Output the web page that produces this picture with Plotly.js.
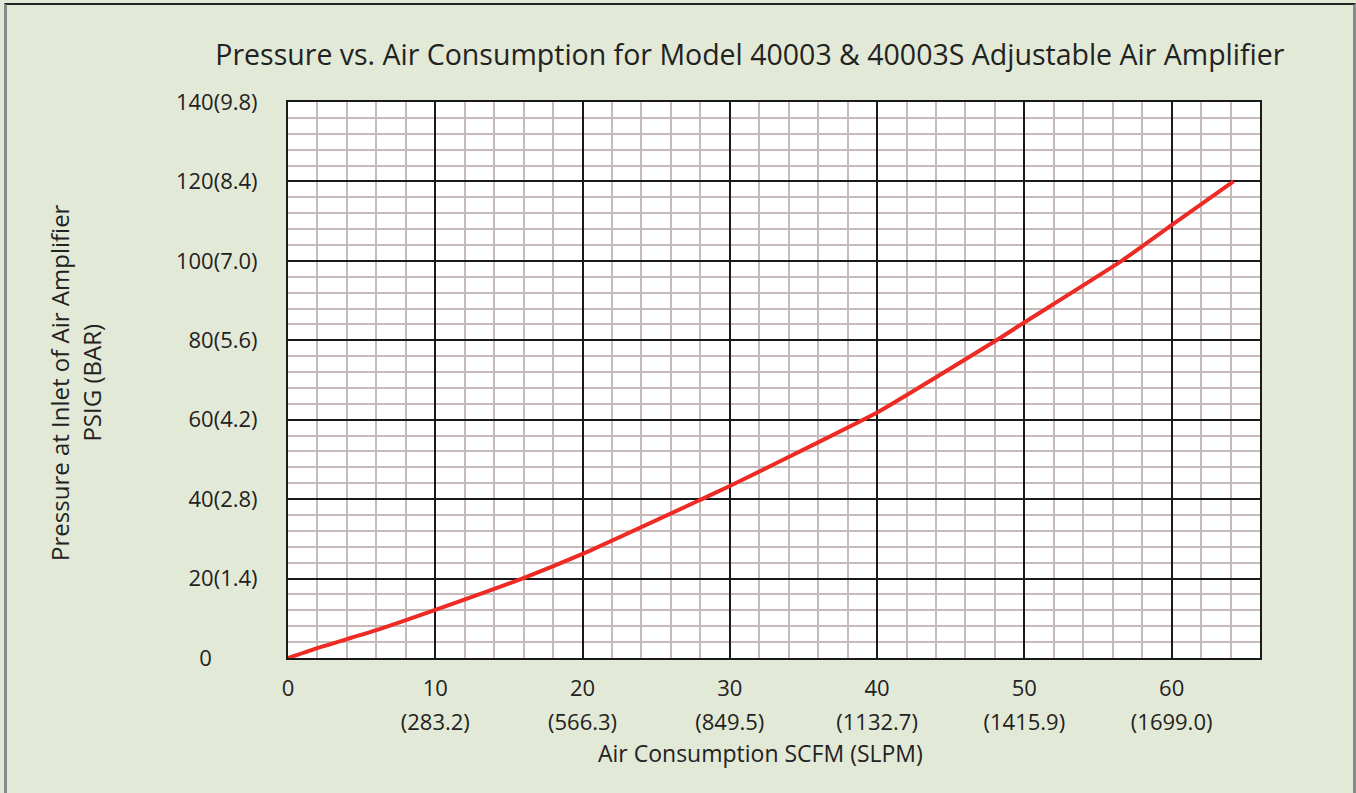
<!DOCTYPE html>
<html>
<head>
<meta charset="utf-8">
<script src="https://cdn.plot.ly/plotly-3.0.1.min.js"></script>
<style>
  html, body { margin: 0; padding: 0; background: #e2e9d6; }
  #wrap { position: relative; width: 1356px; height: 793px; overflow: hidden; }
  #chart { width: 1356px; height: 793px; }
  #frame { position: absolute; left: 4px; top: 3px; width: 1346px; height: 800px;
           border-top: 2px solid #222; border-left: 3px solid #8a8a8a; border-right: 3px solid #8a8a8a;
           pointer-events: none; }
</style>
</head>
<body>
<div id="wrap">
  <div id="chart"></div>
  <div id="frame"></div>
</div>
<script>
// Data
const airScfm = [0, 2, 6, 10, 15.9, 20, 28.1, 30, 36, 40, 48.1, 50, 56.6, 60, 64.2];
const pressurePsig = [0, 2.5, 7.0, 12.1, 20, 26.2, 40, 43.3, 54.3, 61.8, 80, 84.5, 100, 109, 120];

const xTickVals = [0, 10, 20, 30, 40, 50, 60];
const xTickScfm = ['0', '10', '20', '30', '40', '50', '60'];
const xTickSlpm = ['', '(283.2)', '(566.3)', '(849.5)', '(1132.7)', '(1415.9)', '(1699.0)'];
const yTickVals = [0, 20, 40, 60, 80, 100, 120, 140];
const yTickText = ['0\u00a0\u00a0\u00a0\u00a0\u00a0\u00a0\u00a0\u00a0', '20(1.4)', '40(2.8)', '60(4.2)', '80(5.6)', '100(7.0)', '120(8.4)', '140(9.8)'];

const titleText = 'Pressure vs. Air Consumption for Model 40003 & 40003S Adjustable Air Amplifier';
const xTitle = 'Air Consumption SCFM (SLPM)';
const yTitle = 'Pressure at Inlet of Air Amplifier<br>PSIG (BAR)';

const font = 'Open Sans, Noto Sans, sans-serif';
const txt = '#222222';

const traces = [
  { x: airScfm, y: pressurePsig, type: 'scatter', mode: 'lines',
    line: { color: '#ee2a24', width: 4, shape: 'spline', smoothing: 0.5 },
    hoverinfo: 'x+y', showlegend: false, xaxis: 'x', yaxis: 'y' },
  { x: [0, 66], y: [0, 0], type: 'scatter', mode: 'markers', marker: { opacity: 0 },
    hoverinfo: 'skip', showlegend: false, xaxis: 'x2', yaxis: 'y' }
];

const layout = {
  width: 1356, height: 793,
  paper_bgcolor: '#e2e9d6', plot_bgcolor: '#ffffff',
  margin: { l: 288, r: 96, t: 102, b: 135 },
  font: { family: font, color: txt, size: 22 },
  title: { text: titleText, font: { family: font, size: 28.5, color: txt },
           x: 0.553, xref: 'container', xanchor: 'center', y: 0.93, yref: 'container', yanchor: 'middle' },
  xaxis: {
    range: [0, 66], tickvals: xTickVals, ticktext: xTickScfm,
    showgrid: true, gridcolor: '#1a1a1a', gridwidth: 2,
    showline: true, linecolor: '#1a1a1a', linewidth: 2, mirror: true,
    zeroline: false, ticks: '', ticklabelstandoff: 10,
    tickfont: { family: font, size: 22, color: txt },
    minor: { dtick: 2, showgrid: true, gridcolor: '#c6baba', gridwidth: 2 }
  },
  xaxis2: {
    overlaying: 'x', matches: 'x', side: 'bottom', range: [0, 66],
    tickvals: xTickVals, ticktext: xTickSlpm, showgrid: false, zeroline: false,
    showline: false, ticks: '', ticklabelstandoff: 49,
    tickfont: { family: font, size: 22, color: txt }
  },
  yaxis: {
    range: [0, 140], tickvals: yTickVals, ticktext: yTickText,
    showgrid: true, gridcolor: '#1a1a1a', gridwidth: 2,
    showline: true, linecolor: '#1a1a1a', linewidth: 2, mirror: true,
    zeroline: false, ticks: '', ticklabelstandoff: 24,
    tickfont: { family: font, size: 22, color: txt },
    minor: { dtick: 4, showgrid: true, gridcolor: '#c6baba', gridwidth: 2 }
  },
  annotations: [
    { text: xTitle, xref: 'paper', yref: 'paper', x: 0.4857, y: -0.17, xanchor: 'center', yanchor: 'middle',
      showarrow: false, font: { family: font, size: 23, color: txt } },
    { text: yTitle, xref: 'paper', yref: 'paper', x: -0.219, y: 0.495, xanchor: 'center', yanchor: 'middle',
      textangle: -90, showarrow: false, font: { family: font, size: 24, color: txt } }
  ]
};

Plotly.newPlot('chart', traces, layout, { displayModeBar: false, staticPlot: true });
</script>
</body>
</html>
